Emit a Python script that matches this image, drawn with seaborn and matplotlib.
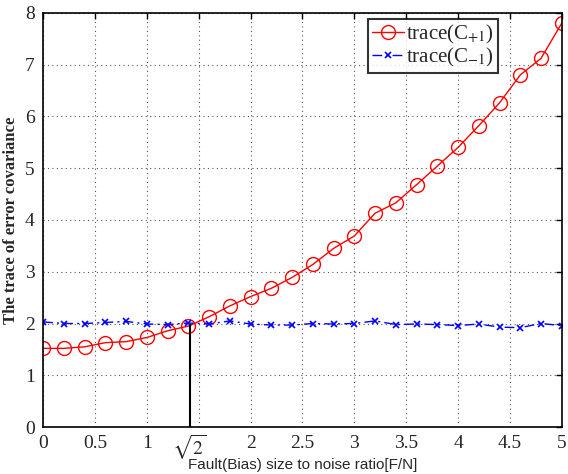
import numpy as np
import pandas as pd
import matplotlib
matplotlib.use("Agg")
import matplotlib.pyplot as plt
import seaborn as sns

# data
ratio = [0.0, 0.2, 0.4, 0.6, 0.8, 1.0, 1.2, 1.4, 1.6, 1.8, 2.0, 2.2, 2.4,
         2.6, 2.8, 3.0, 3.2, 3.4, 3.6, 3.8, 4.0, 4.2, 4.4, 4.6, 4.8, 5.0]
trace_plus = [1.52, 1.52, 1.55, 1.63, 1.65, 1.73, 1.86, 1.95, 2.13, 2.34, 2.52,
              2.68, 2.89, 3.14, 3.45, 3.69, 4.13, 4.33, 4.68, 5.04, 5.40,
              5.82, 6.26, 6.80, 7.12, 7.80]
trace_minus = [2.03, 2.00, 2.00, 2.02, 2.04, 1.99, 1.98, 2.01, 1.99, 2.05, 1.99,
               1.97, 1.97, 2.00, 1.99, 2.00, 2.05, 1.98, 1.99, 1.98, 1.96,
               1.99, 1.93, 1.92, 2.00, 1.96]
xticks = [0, 0.5, 1, 1.5, 2, 2.5, 3, 3.5, 4, 4.5, 5]
xticklabels = ["0", "0.5", "1", "", "2", "2.5", "3", "3.5", "4", "4.5", "5"]
yticks = [0, 1, 2, 3, 4, 5, 6, 7, 8]
marker_x = np.sqrt(2)
marker_top = 1.97

df = pd.DataFrame({"ratio": ratio, "plus": trace_plus, "minus": trace_minus})

sns.set_style("white")
plt.rcParams["font.family"] = ["Liberation Serif", "DejaVu Serif"]
plt.rcParams["mathtext.fontset"] = "stix"

fig = plt.figure(figsize=(5.68, 4.74), dpi=100)
ax = fig.add_axes([0.076, 0.099, 0.913, 0.874])

sns.lineplot(data=df, x="ratio", y="plus", ax=ax, color="#ff0000", lw=1.0,
             marker="o", markersize=10, markerfacecolor="none",
             markeredgecolor="#ff0000", markeredgewidth=1.0,
             label=r"trace(C$_{+1}$)")
sns.lineplot(data=df, x="ratio", y="minus", ax=ax, color="#0000ff", lw=1.0,
             linestyle=(0, (7, 3, 1.5, 3)), marker="x", markersize=5,
             markeredgecolor="#0000ff", markeredgewidth=1.2,
             label=r"trace(C$_{-1}$)")

ax.plot([marker_x, marker_x], [0, marker_top], color="black", lw=1.5)

ax.set_xlim(0, 5)
ax.set_ylim(0, 8)
ax.set_xticks(xticks)
ax.set_xticklabels(xticklabels)
ax.set_yticks(yticks)
ax.text(marker_x, -0.12, r"$\sqrt{2}$", ha="center", va="top", fontsize=14,
        transform=ax.transData)

ax.grid(True, color="#555555", linestyle=(0, (1, 3)), lw=0.8)
ax.tick_params(direction="in", top=True, right=True, length=4, width=1,
               labelsize=14, color="black", pad=6)
for s in ax.spines.values():
    s.set_visible(True)
    s.set_color("black")
    s.set_linewidth(1.2)

ax.set_xlabel("Fault(Bias) size to noise ratio[F/N]", fontsize=11,
              family="Liberation Sans", labelpad=4)
ax.set_ylabel("The trace of error covariance", fontsize=12, fontweight="bold",
              labelpad=4)

leg = ax.legend(loc="upper right", bbox_to_anchor=(0.885, 0.995), fontsize=15,
                frameon=True, fancybox=False, handlelength=1.5,
                handletextpad=0.1, borderpad=0.2, labelspacing=0.0,
                borderaxespad=0.2)
leg.get_frame().set_edgecolor("black")
leg.get_frame().set_linewidth(1.5)

fig.savefig("out.png", dpi=100)
